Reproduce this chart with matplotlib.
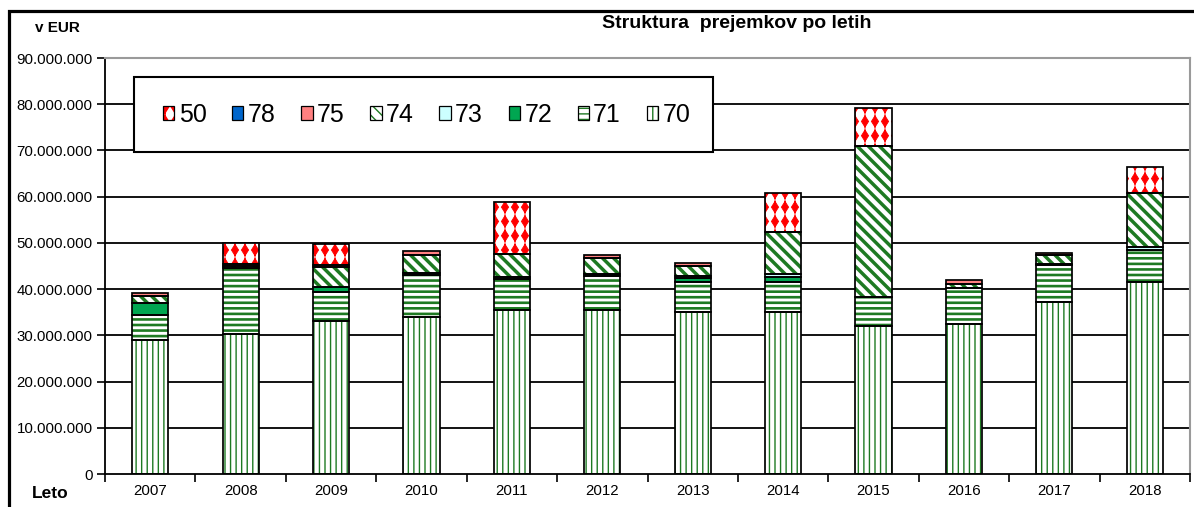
import numpy as np
import matplotlib
matplotlib.use("Agg")
import matplotlib.pyplot as plt
import matplotlib.hatch as mhatch
from matplotlib.path import Path
from matplotlib.patches import Patch, Rectangle
from matplotlib.legend_handler import HandlerTuple
from matplotlib.ticker import FuncFormatter, FixedLocator
from matplotlib import font_manager

# ---------------- data (EUR, millions) ----------------
years = ["2007", "2008", "2009", "2010", "2011", "2012",
         "2013", "2014", "2015", "2016", "2017", "2018"]
k70 = [29.0, 30.2, 33.2, 34.0, 35.5, 35.5, 35.1, 35.1, 32.0, 32.5, 37.2, 41.5]
k71 = [5.4, 14.3, 6.1, 9.1, 6.7, 7.4, 6.5, 6.5, 6.4, 7.7, 8.0, 7.0]
k72 = [2.5, 0.0, 1.1, 0.3, 0.0, 0.3, 0.7, 1.1, 0.0, 0.0, 0.3, 0.0]
k73 = [0.0, 0.0, 0.0, 0.0, 0.5, 0.0, 0.5, 0.6, 0.0, 0.0, 0.0, 0.6]
k74 = [1.6, 0.5, 4.3, 4.0, 5.0, 3.5, 2.1, 9.1, 32.6, 1.0, 1.9, 11.8]
k75 = [0.6, 0.4, 0.5, 0.9, 0.0, 0.7, 0.7, 0.0, 0.0, 0.7, 0.5, 0.0]
k78 = [0.0, 0.0, 0.0, 0.0, 0.0, 0.0, 0.0, 0.0, 0.0, 0.0, 0.0, 0.0]
k50 = [0.0, 4.5, 4.5, 0.0, 11.2, 0.0, 0.0, 8.5, 8.1, 0.0, 0.0, 5.6]
y_ticks = [0, 10e6, 20e6, 30e6, 40e6, 50e6, 60e6, 70e6, 80e6, 90e6]

# ---------------- fonts ----------------
names = {f.name for f in font_manager.fontManager.ttflist}
if "Liberation Sans Narrow" in names:
    NARROW = ["Liberation Sans Narrow", "DejaVu Sans"]
    SCALE = 1.2
else:
    NARROW = ["Liberation Sans", "DejaVu Sans"]
    SCALE = 1.0
plt.rcParams["font.family"] = NARROW


# ---------------- custom diamond hatch (uses '*') ----------------
class DiamondGrid(mhatch.HatchPatternBase):
    def __init__(self, hatch, density):
        c = hatch.count("*")
        self.ncol = 10 * c
        self.nrow = 7 * c
        self.num_vertices = self.ncol * self.nrow * 5 + self.ncol * 2

    def set_vertices_and_codes(self, vertices, codes):
        if self.num_vertices == 0:
            return
        dx = 1.0 / self.ncol
        dy = 1.0 / self.nrow
        shape = np.array([[0, -0.40 * dy], [0.36 * dx, 0], [0, 0.40 * dy],
                          [-0.36 * dx, 0], [0, -0.40 * dy]])
        sc = [Path.MOVETO, Path.LINETO, Path.LINETO, Path.LINETO, Path.CLOSEPOLY]
        pv, pc = [], []
        for i in range(self.ncol):
            for j in range(self.nrow):
                pv.append(shape + [(i + 0.5) * dx, (j + 0.5) * dy])
                pc.append(sc)
        for i in range(self.ncol):
            pv.append(np.array([[(i + 0.5) * dx, 0.0], [(i + 0.5) * dx, 1.0]]))
            pc.append([Path.MOVETO, Path.LINETO])
        vertices[:] = np.concatenate(pv)
        codes[:] = np.concatenate(pc)


mhatch._hatch_types = [t for t in mhatch._hatch_types
                       if t is not mhatch.Stars] + [DiamondGrid]

GREEN = "#1e7a22"
series = [
    ("70", k70, "white", GREEN, "|||", 1.0),
    ("71", k71, "white", GREEN, "---", 1.9),
    ("72", k72, "#00a651", "#00a651", None, 1.0),
    ("73", k73, "#ccffff", "#ccffff", None, 1.0),
    ("74", k74, "white", GREEN, "\\\\\\", 2.5),
    ("75", k75, "#ff8080", "#ff8080", None, 1.0),
    ("78", k78, "#0066cc", "#0066cc", None, 1.0),
    ("50", k50, "white", "#ff0000", "*", 0.6),
]

fig = plt.figure(figsize=(11.94, 5.07), dpi=100)
ax = fig.add_axes([105 / 1194, 33 / 507, 1085 / 1194, 416 / 507])

x = np.arange(len(years))
W = 0.40
bottom = np.zeros(len(years))
handles = {}
for name, vals, face, hc, hatch, hlw in series:
    v = np.array(vals) * 1e6
    m = v > 0
    if m.any():
        with plt.rc_context({"hatch.linewidth": hlw}):
            bars = ax.bar(x[m], v[m], W, bottom=bottom[m], color=face,
                          edgecolor=hc, linewidth=0, hatch=hatch, zorder=2)
            for b in bars:
                if hasattr(b, "set_hatch_linewidth"):
                    b.set_hatch_linewidth(hlw)
        ax.bar(x[m], v[m], W, bottom=bottom[m], fill=False,
               edgecolor="black", linewidth=1.25, zorder=3)
    bottom = bottom + v
    with plt.rc_context({"hatch.linewidth": min(hlw, 1.2)}):
        hp = Patch(facecolor=face, edgecolor=hc, linewidth=0, hatch=hatch)
        if hasattr(hp, "set_hatch_linewidth"):
            hp.set_hatch_linewidth(min(hlw, 1.2))
    ho = Patch(fill=False, edgecolor="black", linewidth=0.9)
    handles[name] = (hp, ho)

plt.rcParams["hatch.linewidth"] = 1.0

# axes styling
ax.set_xlim(-0.5, len(years) - 0.5)
ax.set_ylim(0, 90e6)
ax.yaxis.set_major_locator(FixedLocator(y_ticks))
ax.yaxis.set_major_formatter(FuncFormatter(
    lambda v, p: "0" if v == 0 else f"{int(round(v)):,}".replace(",", ".")))
ax.hlines(y_ticks[1:-1], -0.5, len(years) - 0.5, colors="black",
          linewidth=1.3, zorder=0.5)
ax.set_xticks(x)
ax.set_xticklabels(years)
ax.set_xticks(np.arange(-0.5, len(years), 1.0), minor=True)
ax.tick_params(axis="x", which="major", length=0, pad=7, labelsize=10.8 * SCALE)
ax.tick_params(axis="x", which="minor", length=6, width=1.2, direction="out")
ax.tick_params(axis="y", length=6, width=1.2, pad=3, labelsize=10.8 * SCALE)
for s in ("left", "bottom"):
    ax.spines[s].set_color("black")
    ax.spines[s].set_linewidth(1.3)
for s in ("top", "right"):
    ax.spines[s].set_color("#9a9a9a")
    ax.spines[s].set_linewidth(1.5)

# legend box and legend
ax.add_patch(Rectangle((29 / 1085, 0.774), 0.5336, 0.180, transform=ax.transAxes,
                       facecolor="white", edgecolor="black", linewidth=1.5,
                       zorder=5))
order = ["50", "78", "75", "74", "73", "72", "71", "70"]
leg = ax.legend([handles[k] for k in order], order, ncol=8, frameon=False,
                loc="center left", bbox_to_anchor=(58 / 1085, 0.863),
                borderpad=0, borderaxespad=0, fontsize=18,
                handlelength=0.45, handleheight=0.45, handletextpad=0.18,
                columnspacing=1.02,
                handler_map={tuple: HandlerTuple(ndivide=1, pad=0)})
leg.set_zorder(6)

# texts
fig.text(737 / 1194, 1 - 24 / 507, "Struktura  prejemkov po letih", ha="center",
         va="center", fontsize=14, fontweight="bold")
fig.text(57 / 1194, 1 - 28 / 507, "v EUR", ha="center", va="center",
         fontsize=11, fontweight="bold")
fig.text(50 / 1194, 1 - 494 / 507, "Leto", ha="center", va="center",
         fontsize=12.5, fontweight="bold")

# outer frame
fig.add_artist(Rectangle((9 / 1194, -0.5), 2.0, 0.5 + 1 - 11 / 507,
                         transform=fig.transFigure, fill=False,
                         edgecolor="black", linewidth=2.3, clip_on=False))

fig.savefig("out.png", dpi=100)
